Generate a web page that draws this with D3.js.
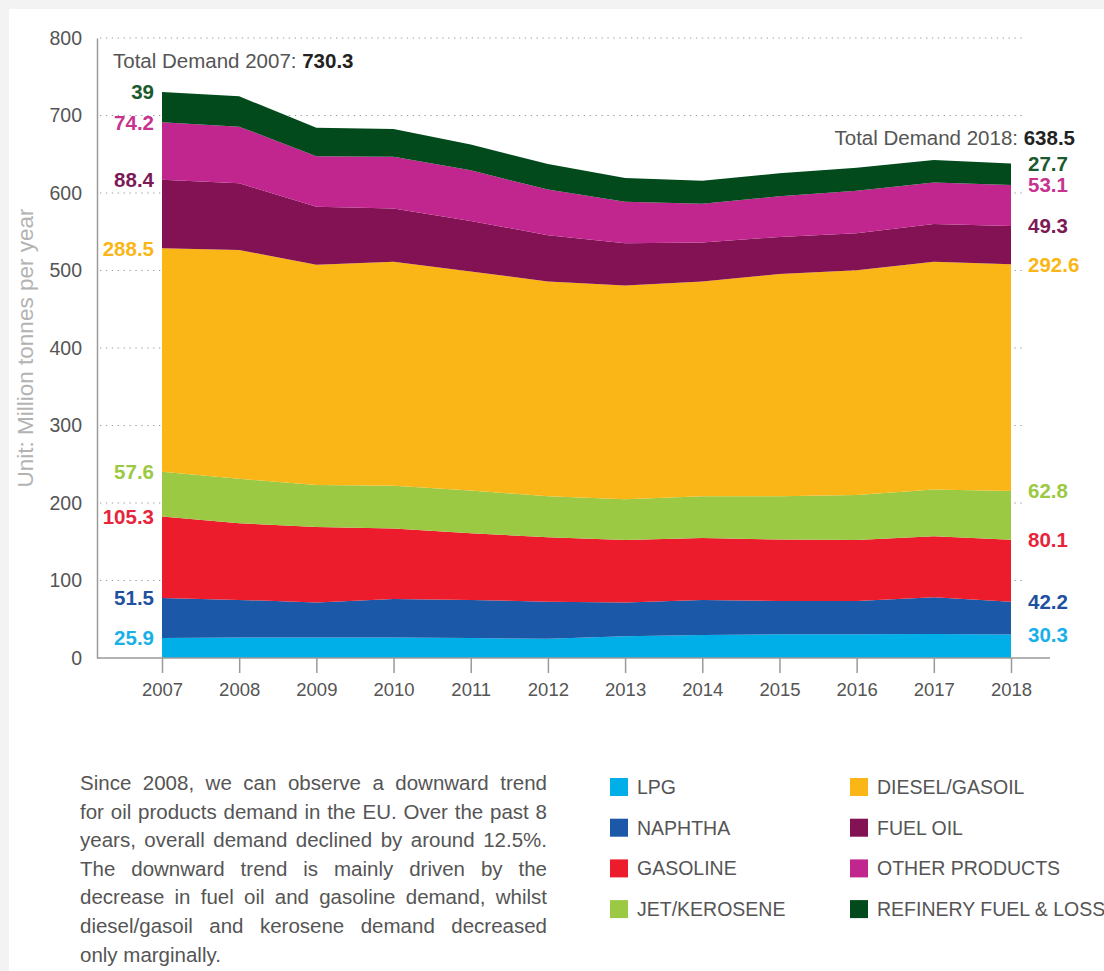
<!DOCTYPE html>
<html>
<head>
<meta charset="utf-8">
<script src="https://cdn.jsdelivr.net/npm/d3@7"></script>
<style>
  body { margin: 0; background: #f3f3f3; }
  svg { display: block; font-family: "Liberation Sans", Arial, Helvetica, sans-serif; }
  .axis text { fill: #555; }
  .axis path, .axis line { stroke: #9a9a9a; }
</style>
</head>
<body>
<div id="chart"></div>
<script>
// EU oil products demand, million tonnes per year
var years = [2007, 2008, 2009, 2010, 2011, 2012, 2013, 2014, 2015, 2016, 2017, 2018];
var lpg      = [25.9, 26.3, 26.3, 26.3, 25.8, 24.8, 28.2, 29.6, 30.6, 30.6, 31.1, 30.3];
var naphtha  = [51.5, 48.7, 45.4, 49.7, 49.2, 47.8, 43.5, 45.4, 43.0, 43.0, 47.3, 42.2];
var gasoline = [105.3, 98.9, 97.4, 91.2, 86.0, 83.2, 80.7, 79.8, 79.3, 78.8, 78.8, 80.1];
var jet      = [57.6, 57.3, 54.0, 55.0, 55.0, 53.0, 52.6, 54.0, 55.9, 57.8, 60.2, 62.8];
var diesel   = [288.5, 295.3, 284.3, 289.0, 282.8, 277.1, 275.7, 277.1, 286.7, 290.0, 293.8, 292.6];
var fuelOil  = [88.4, 86.0, 75.0, 68.8, 65.0, 59.7, 54.4, 50.2, 47.7, 47.8, 48.8, 49.3];
var other    = [74.2, 73.1, 65.0, 66.9, 65.4, 58.8, 53.5, 50.1, 52.6, 55.0, 53.5, 53.1];
var refinery = [39.0, 39.2, 36.8, 35.8, 33.5, 33.0, 30.6, 29.7, 29.6, 29.6, 29.1, 27.7];

var seriesKeys   = ["lpg", "naphtha", "gasoline", "jet", "diesel", "fuelOil", "other", "refinery"];
var seriesNames  = ["LPG", "NAPHTHA", "GASOLINE", "JET/KEROSENE", "DIESEL/GASOIL", "FUEL OIL", "OTHER PRODUCTS", "REFINERY FUEL & LOSS"];
var seriesColors = ["#00aee8", "#1b58a7", "#ec1c2c", "#9bc943", "#fab616", "#821254", "#c0268e", "#024a1c"];
var labelColors  = ["#19b0e8", "#2050a0", "#e8243a", "#9bc943", "#fab616", "#7c1a55", "#c7338f", "#1a5a2c"];
var yTicks = [0, 100, 200, 300, 400, 500, 600, 700, 800];
var totalLabels = {first: "730.3", last: "638.5"};

var paragraph = [
  "Since 2008, we can observe a downward trend",
  "for oil products demand in the EU. Over the past 8",
  "years, overall demand declined by around 12.5%.",
  "The downward trend is mainly driven by the",
  "decrease in fuel oil and gasoline demand, whilst",
  "diesel/gasoil and kerosene demand decreased",
  "only marginally."
];

var columns = {lpg: lpg, naphtha: naphtha, gasoline: gasoline, jet: jet,
               diesel: diesel, fuelOil: fuelOil, other: other, refinery: refinery};
var table = years.map(function(yr, i) {
  var row = {year: yr};
  seriesKeys.forEach(function(k) { row[k] = columns[k][i]; });
  return row;
});

var W = 1104, H = 971;
var svg = d3.select("#chart").append("svg")
  .attr("width", W).attr("height", H);

// white panel with faint grey edge
svg.append("rect").attr("x", 9).attr("y", 9).attr("width", W - 9).attr("height", H - 9).attr("fill", "#fff");

var x = d3.scaleLinear().domain([2007, 2018]).range([162, 1011]);
var y = d3.scaleLinear().domain([0, 800]).range([658, 38]);
var axisLeftX = 97;

// dotted gridlines
svg.append("g").selectAll("line")
  .data(yTicks.filter(function(t) { return t > 0; }))
  .enter().append("line")
  .attr("x1", axisLeftX + 3).attr("x2", 1022)
  .attr("y1", function(d) { return y(d); })
  .attr("y2", function(d) { return y(d); })
  .attr("stroke", "#9a9a9a")
  .attr("stroke-width", 1.2)
  .attr("stroke-dasharray", "1.3,4.6");

// stacked areas
var stack = d3.stack().keys(seriesKeys);
var layers = stack(table);
var area = d3.area()
  .x(function(d) { return x(d.data.year); })
  .y0(function(d) { return y(d[0]); })
  .y1(function(d) { return y(d[1]); });

svg.append("g").selectAll("path")
  .data(layers)
  .enter().append("path")
  .attr("fill", function(d, i) { return seriesColors[i]; })
  .attr("d", area);

// x axis
var xAxis = d3.axisBottom(x).tickValues(years).tickFormat(d3.format("d"))
  .tickSize(15).tickPadding(10).tickSizeOuter(0);
var gx = svg.append("g").attr("class", "axis")
  .attr("transform", "translate(0," + y(0) + ")")
  .call(xAxis);
gx.select(".domain").remove();
gx.append("line").attr("x1", axisLeftX).attr("x2", 1050).attr("y1", 0).attr("y2", 0)
  .attr("stroke", "#9a9a9a").attr("stroke-width", 1.5);
gx.selectAll(".tick line").attr("stroke-width", 1.5);
gx.selectAll("text").style("font-size", "18.5px");

// y axis
var yAxis = d3.axisLeft(y).tickValues(yTicks).tickSize(0).tickPadding(15);
var gy = svg.append("g").attr("class", "axis")
  .attr("transform", "translate(" + axisLeftX + ",0)")
  .call(yAxis);
gy.select(".domain").attr("stroke-width", 1.5);
gy.selectAll("text").style("font-size", "19.5px");

svg.append("text")
  .attr("transform", "translate(25," + ((y(0) + y(800)) / 2) + ") rotate(-90)")
  .attr("text-anchor", "middle")
  .attr("dominant-baseline", "central")
  .style("font-size", "22.5px")
  .attr("fill", "#b3b3b3")
  .text("Unit: Million tonnes per year");

// end labels
var first = layers.map(function(l) { return l[0]; });
var last = layers.map(function(l) { return l[l.length - 1]; });

svg.append("g").selectAll("text")
  .data(first)
  .enter().append("text")
  .attr("x", x(2007) - 8)
  .attr("y", function(d) { return y(d[1]); })
  .attr("dy", "0.36em")
  .attr("text-anchor", "end")
  .attr("fill", function(d, i) { return labelColors[i]; })
  .style("font-size", "20.5px").style("font-weight", "bold")
  .text(function(d) { return d3.format(".1f")(d[1] - d[0]).replace(/\.0$/, ""); });

svg.append("g").selectAll("text")
  .data(last)
  .enter().append("text")
  .attr("x", x(2018) + 17)
  .attr("y", function(d) { return y(d[1]); })
  .attr("dy", "0.36em")
  .attr("fill", function(d, i) { return labelColors[i]; })
  .style("font-size", "20.5px").style("font-weight", "bold")
  .text(function(d) { return d3.format(".1f")(d[1] - d[0]); });

// total demand annotations
var t1 = svg.append("text").attr("x", 113).attr("y", 68).style("font-size", "20.5px");
t1.append("tspan").attr("fill", "#555").text("Total Demand 2007: ");
t1.append("tspan").attr("fill", "#222").style("font-weight", "bold").text(totalLabels.first);

var t2 = svg.append("text").attr("x", 1075).attr("y", 145).attr("text-anchor", "end").style("font-size", "20.5px");
t2.append("tspan").attr("fill", "#555").text("Total Demand 2018: ");
t2.append("tspan").attr("fill", "#222").style("font-weight", "bold").text(totalLabels.last);

// paragraph, justified
var paraWidth = 467;
var para = svg.append("g").attr("transform", "translate(80,790)");
paragraph.forEach(function(line, i) {
  var t = para.append("text")
    .attr("y", i * 28.6)
    .attr("fill", "#555")
    .style("font-size", "20.5px")
    .text(line);
  if (i < paragraph.length - 1) {
    var w = t.node().getComputedTextLength();
    var gaps = line.split(" ").length - 1;
    t.style("word-spacing", ((paraWidth - w) / gaps) + "px");
  }
});

// legend
var legend = svg.append("g");
var legItems = legend.selectAll("g")
  .data(seriesNames)
  .enter().append("g")
  .attr("transform", function(d, i) {
    var col = Math.floor(i / 4), row = i % 4;
    return "translate(" + (610 + col * 240) + "," + (778 + row * 40.7) + ")";
  });
legItems.append("rect")
  .attr("width", 18).attr("height", 18)
  .attr("fill", function(d, i) { return seriesColors[i]; });
legItems.append("text")
  .attr("x", 27).attr("y", 9).attr("dy", "0.36em")
  .attr("fill", "#555")
  .style("font-size", "19.5px")
  .text(function(d) { return d; });
</script>
</body>
</html>
